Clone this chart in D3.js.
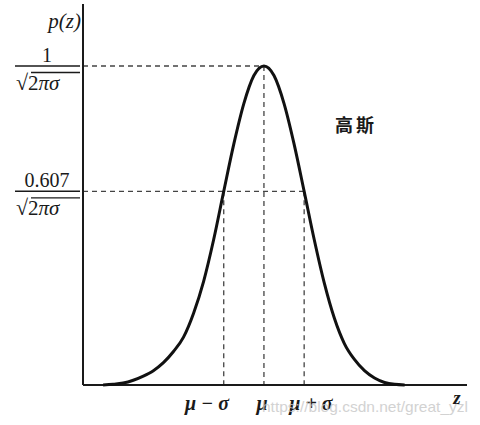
<!DOCTYPE html>
<html>
<head>
<meta charset="utf-8">
<script src="https://cdn.jsdelivr.net/npm/d3@7"></script>
<style>
  body { margin: 0; background: #fff; }
  text { font-family: "Liberation Serif", "DejaVu Serif", serif; fill: #1a1a1a; }
</style>
</head>
<body>
<svg id="chart"></svg>
<script>
// curve: z in units of sigma (mu = 0), p relative to the peak
const zValues = [-4, -3.75, -3.5, -3.25, -3, -2.75, -2.5, -2.25, -2, -1.75, -1.5, -1.25, -1, -0.75, -0.5, -0.25, 0,
                 0.25, 0.5, 0.75, 1, 1.25, 1.5, 1.75, 2, 2.25, 2.5, 2.75, 3, 3.25, 3.5];
const pValues = [0, 0.002, 0.006, 0.015, 0.028, 0.045, 0.07, 0.105, 0.15, 0.225, 0.325, 0.456, 0.607, 0.755, 0.882, 0.97, 1,
                 0.97, 0.882, 0.755, 0.607, 0.456, 0.32, 0.21, 0.13, 0.08, 0.045, 0.022, 0.008, 0.002, 0];

// marked levels on the p axis and marked points on the z axis
const levelValues = [1, 0.607];
const levelNumerators = ['1', '0.607'];
const markZ = [-1, 0, 1];
const markLabels = ['μ − σ', 'μ', 'μ + σ'];
const curveName = '高斯';

const width = 480, height = 425;
const margin = {top: 4, right: 13, bottom: 40, left: 83};

const svg = d3.select('#chart')
    .attr('width', width)
    .attr('height', height);

const x = d3.scaleLinear()
    .domain([-4.5, 5.05])
    .range([margin.left, width - margin.right]);

const y = d3.scaleLinear()
    .domain([0, 1])
    .range([385, 66]);

const ink = '#1a1a1a';
const dash = '#444';

// dashed guides
svg.append('line')
    .attr('x1', x.range()[0]).attr('x2', x(0))
    .attr('y1', y(1)).attr('y2', y(1))
    .attr('stroke', dash).attr('stroke-width', 1.3).attr('stroke-dasharray', '5,4');
svg.append('line')
    .attr('x1', x.range()[0]).attr('x2', x(1))
    .attr('y1', y(0.607)).attr('y2', y(0.607))
    .attr('stroke', dash).attr('stroke-width', 1.3).attr('stroke-dasharray', '5,4');

svg.selectAll('.vguide')
  .data(markZ)
  .enter().append('line')
    .attr('class', 'vguide')
    .attr('x1', d => x(d)).attr('x2', d => x(d))
    .attr('y1', d => d === 0 ? y(1) : y(0.607))
    .attr('y2', y(0))
    .attr('stroke', dash).attr('stroke-width', 1.3).attr('stroke-dasharray', '5,4');

// axes
svg.append('line')
    .attr('x1', x.range()[0]).attr('x2', x.range()[0])
    .attr('y1', margin.top).attr('y2', y(0))
    .attr('stroke', ink).attr('stroke-width', 2);
svg.append('line')
    .attr('x1', x.range()[0]).attr('x2', x.range()[1])
    .attr('y1', y(0)).attr('y2', y(0))
    .attr('stroke', ink).attr('stroke-width', 2);

// the curve
const line = d3.line()
    .x((d, i) => x(zValues[i]))
    .y(d => y(d))
    .curve(d3.curveMonotoneX);

svg.append('path')
    .datum(pValues)
    .attr('d', line)
    .attr('fill', 'none')
    .attr('stroke', '#111')
    .attr('stroke-width', 3);

// axis titles
svg.append('text')
    .attr('x', 81).attr('y', 28)
    .attr('text-anchor', 'end')
    .attr('font-size', 21)
    .attr('font-style', 'italic')
    .text('p(z)');

svg.append('text')
    .attr('x', 457).attr('y', 404)
    .attr('text-anchor', 'middle')
    .attr('font-size', 19)
    .attr('font-style', 'italic')
    .attr('font-weight', 'bold')
    .text('z');

// fraction labels on the p axis
const frac = svg.selectAll('.frac')
  .data(levelValues)
  .enter().append('g')
    .attr('class', 'frac')
    .attr('transform', d => 'translate(0,' + y(d) + ')');

frac.append('text')
    .attr('x', 47).attr('y', -4)
    .attr('text-anchor', 'middle')
    .attr('font-size', 20)
    .text((d, i) => levelNumerators[i]);

frac.append('line')
    .attr('x1', 15).attr('x2', 80)
    .attr('y1', 0).attr('y2', 0)
    .attr('stroke', ink).attr('stroke-width', 1.5);

const den = frac.append('text')
    .attr('x', 16).attr('y', 24)
    .attr('font-size', 22);
den.append('tspan').text('√');
den.append('tspan').attr('font-size', 21).text('2');
den.append('tspan').attr('font-size', 21).attr('font-style', 'italic').text('πσ');

frac.append('line')
    .attr('x1', 31).attr('x2', 80)
    .attr('y1', 6.5).attr('y2', 6.5)
    .attr('stroke', ink).attr('stroke-width', 1.3);

// labels under the z axis
const labelX = [207, 262, 311];
svg.selectAll('.zlabel')
  .data(markLabels)
  .enter().append('text')
    .attr('class', 'zlabel')
    .attr('x', (d, i) => labelX[i])
    .attr('y', 410)
    .attr('text-anchor', 'middle')
    .attr('font-size', 20)
    .attr('font-style', 'italic')
    .attr('font-weight', 'bold')
    .text(d => d);

// curve name
svg.append('text')
    .attr('x', 335).attr('y', 132)
    .attr('font-size', 18)
    .attr('font-weight', 'bold')
    .attr('letter-spacing', 3)
    .style('font-family', '"Noto Sans CJK SC", sans-serif')
    .text(curveName);

// scan watermark
svg.append('text')
    .attr('x', 262).attr('y', 412)
    .attr('font-size', 15)
    .attr('textLength', 206)
    .attr('lengthAdjust', 'spacingAndGlyphs')
    .style('font-family', '"Liberation Sans", sans-serif')
    .style('fill', '#c8c8c8')
    .attr('opacity', 0.8)
    .text('https://blog.csdn.net/great_yzl');
</script>
</body>
</html>
